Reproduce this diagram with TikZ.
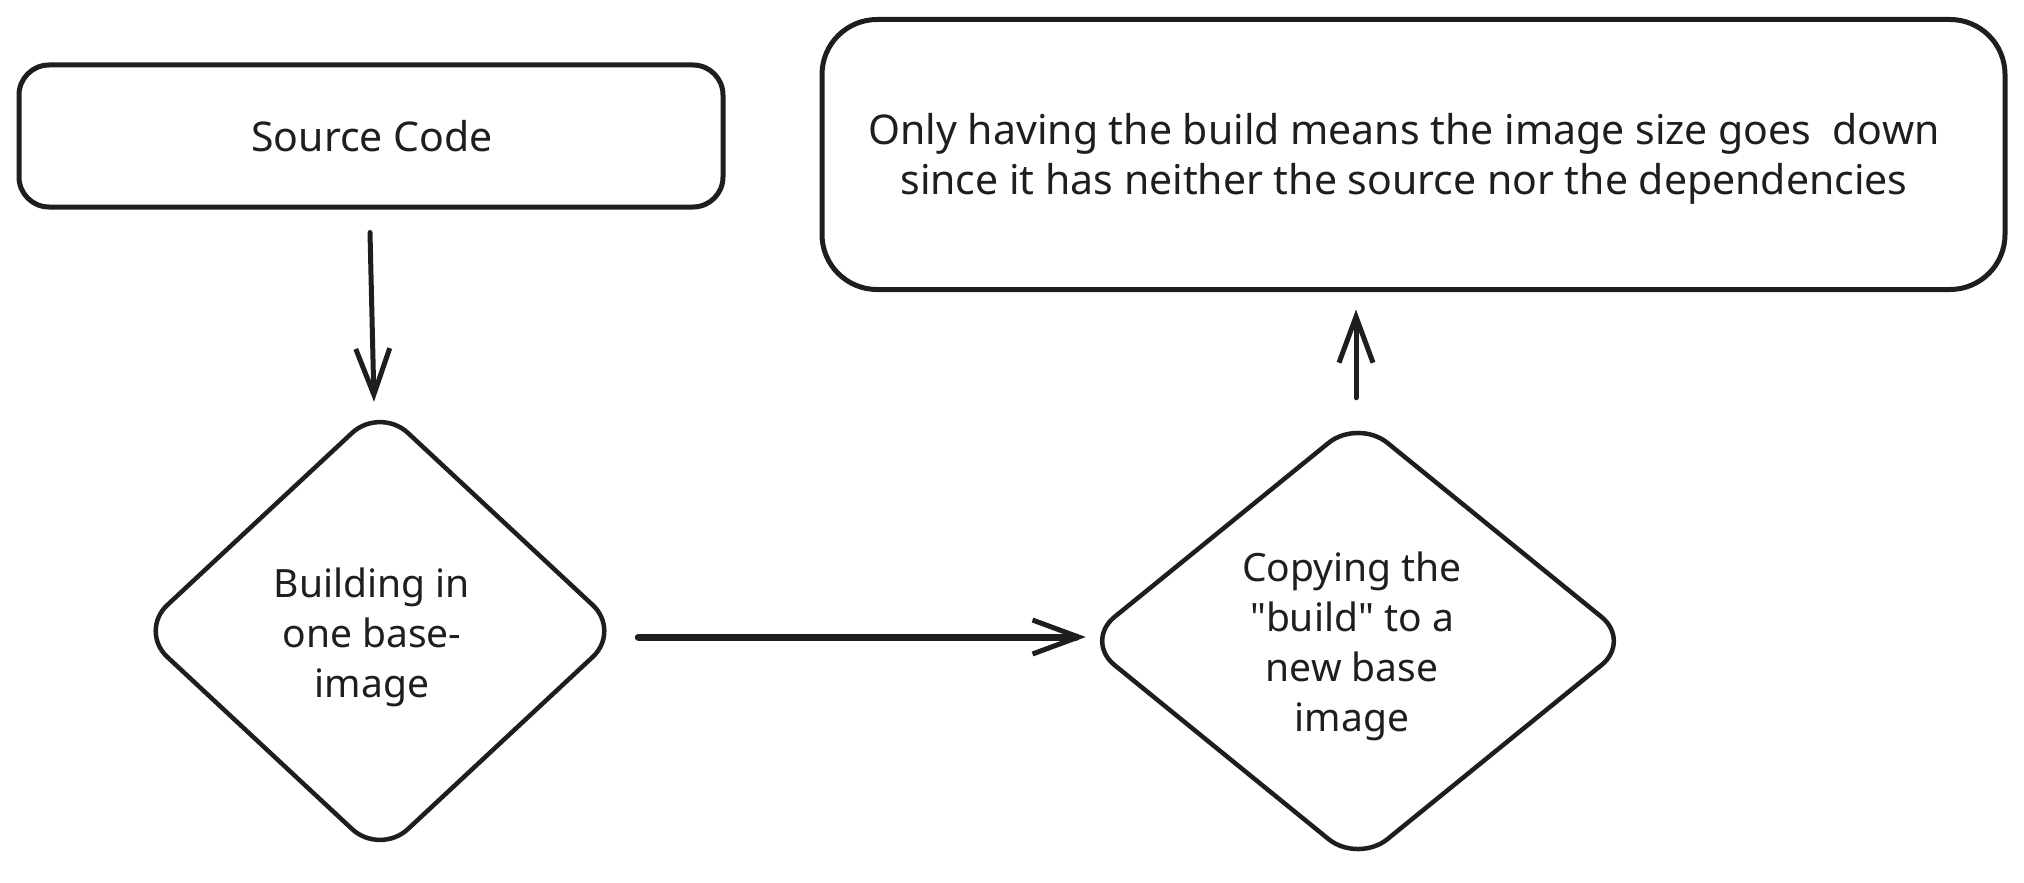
\documentclass[tikz,border=0pt]{standalone}
\usepackage{fontspec}
\setmainfont{Noto Sans}[Ligatures=TeXOff]
\usetikzlibrary{shapes.geometric,arrows.meta,calc}
\definecolor{ink}{HTML}{1E1E1E}
\tikzset{
  box/.style={draw=ink, line width=5pt, rectangle, inner sep=0pt},
  dia/.style={draw=ink, line width=4.5pt, diamond, inner sep=0pt, rounded corners=38pt},
  txt/.style={text=ink, align=center, font=\fontsize{41}{50}\selectfont, inner sep=0pt},
  dtxt/.style={txt, font=\fontsize{39}{50}\selectfont},
  arr/.style={draw=ink, line width=5pt, line cap=round, -{Straight Barb[length=46pt,width=34pt,line width=5pt]}}
}
\begin{document}
\begin{tikzpicture}[x=1pt,y=-1pt]
\useasboundingbox (0,0) rectangle (2024,883);
\node[box, minimum width=704pt, minimum height=142pt, rounded corners=30pt] (src) at (371,136) {};
\node[txt] (srct) at (372,136) {Source Code};
\node[box, minimum width=1183pt, minimum height=270pt, rounded corners=55pt] (big) at (1413.5,154.5) {};
\node[txt] (bigt) at (1404,159) {Only having the build means the image size goes\ \ down\\since it has neither the source nor the dependencies};
\node[dia, minimum width=483pt, minimum height=450pt] (d1) at (380,631) {};
\node[dtxt] (d1t) at (372,637) {Building in\\one base-\\image};
\node[dia, minimum width=548pt, minimum height=446pt] (d2) at (1358,641) {};
\node[dtxt] (d2t) at (1352,646) {Copying the\\"build" to a\\new base\\image};
\draw[arr] ($(src.south)+(-1,23)$) coordinate (a1s) -- ($(d1.north)+(-6,-2)$) coordinate (a1e);
\draw[arr, line width=7pt] ($(d1.east)+(14.5,6)$) coordinate (a2s) -- ($(d2.west)+(4,-4)$) coordinate (a2e);
\draw[arr] ($(d2.north)+(-2,-18)$) coordinate (a3s) -- ($(big.south)+(-57.5,17.5)$) coordinate (a3e);
\end{tikzpicture}
\end{document}
